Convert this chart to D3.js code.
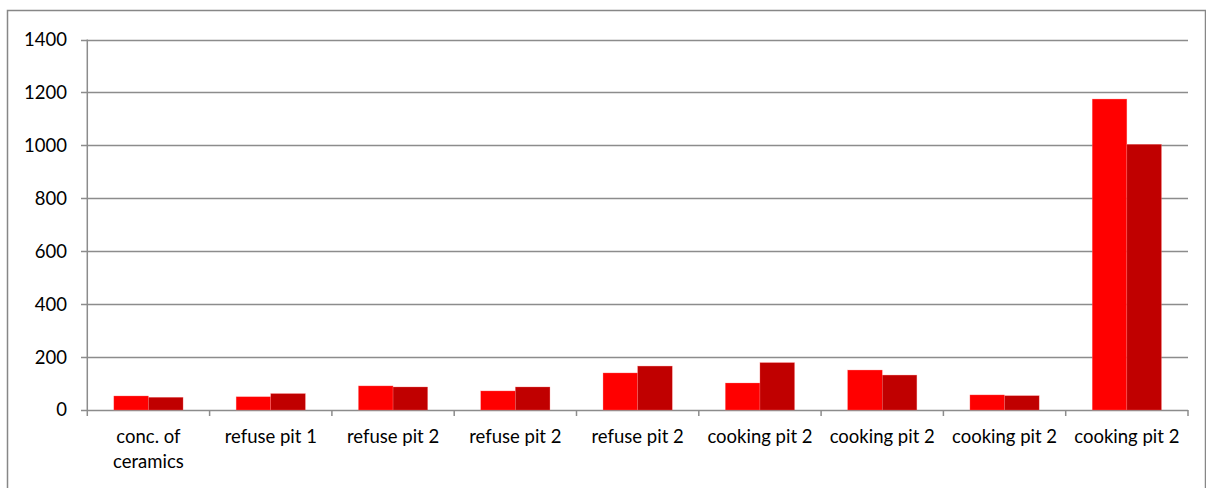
<!DOCTYPE html>
<html><head><meta charset="utf-8">
<script src="https://cdn.jsdelivr.net/npm/d3@7"></script>
<style>body{margin:0;background:#fff}svg{display:block}</style>
</head><body>
<script>
const categories = ["conc. of ceramics","refuse pit 1","refuse pit 2","refuse pit 2","refuse pit 2","cooking pit 2","cooking pit 2","cooking pit 2","cooking pit 2"];
const series1 = [53, 50, 91, 72, 140, 102, 151, 57, 1175];
const series2 = [48, 62, 87, 87, 166, 179, 132, 54, 1004];
const yTicks = [0, 200, 400, 600, 800, 1000, 1200, 1400];
const seriesColors = ["#ff0000", "#c00000"];

const W = 1206, H = 488;
const svg = d3.select("body").append("svg").attr("width", W).attr("height", H);
svg.append("rect").attr("x", 7.5).attr("y", 10.5).attr("width", 1198).attr("height", 490)
  .attr("fill", "none").attr("stroke", "#878787").attr("stroke-width", 1.5);

const L = 87.3, R = 1188, T = 39.5, B = 410;
const y = d3.scaleLinear().domain([0, 1400]).range([B, T]);
const x0 = d3.scaleBand().domain(d3.range(categories.length)).range([L, R]).paddingInner(0.434).paddingOuter(0.217);
const x1 = d3.scaleBand().domain([0, 1]).range([0, x0.bandwidth()]);

const font = "Lato, 'Open Sans', sans-serif";
const fs = 18.5;
// gridlines
svg.append("g").selectAll("line").data(yTicks).join("line")
  .attr("x1", 81).attr("x2", R).attr("y1", d => Math.round(y(d)) + 0.5).attr("y2", d => Math.round(y(d)) + 0.5)
  .attr("stroke", "#8c8c8c").attr("stroke-width", 1.5);
// y axis line
svg.append("line").attr("x1", L).attr("x2", L).attr("y1", T).attr("y2", B).attr("stroke", "#8c8c8c").attr("stroke-width", 1.5);
// y labels
svg.append("g").selectAll("text").data(yTicks).join("text")
  .attr("x", 67).attr("y", d => y(d)).attr("dy", "0.35em").attr("text-anchor", "end")
  .attr("font-family", font).attr("font-size", fs).attr("fill", "#000").text(d => d);
// x ticks
const xTickPos = d3.range(categories.length + 1).map(i => L + i * x0.step());
svg.append("g").selectAll("line").data(xTickPos).join("line")
  .attr("x1", d => d).attr("x2", d => d).attr("y1", B).attr("y2", B + 6)
  .attr("stroke", "#8c8c8c").attr("stroke-width", 1.5);

const data = categories.map((c, i) => [series1[i], series2[i]]);
const g = svg.append("g").selectAll("g").data(data).join("g")
  .attr("transform", (d, i) => `translate(${x0(i)},0)`);
g.selectAll("rect").data(d => d).join("rect")
  .attr("x", (d, j) => x1(j)).attr("width", x1.bandwidth())
  .attr("y", d => y(d)).attr("height", d => B - y(d))
  .attr("fill", (d, j) => seriesColors[j]).attr("stroke", "#ff8080").attr("stroke-width", 0.5).attr("stroke-opacity", 0.6);

// x labels
const xl = svg.append("g").selectAll("text").data(categories).join("text")
  .attr("x", (d, i) => x0(i) + x0.bandwidth() / 2).attr("y", 443)
  .attr("text-anchor", "middle").attr("font-family", font).attr("font-size", fs).attr("fill", "#000");
xl.each(function(d) {
  const lines = d === "conc. of ceramics" ? ["conc. of", "ceramics"] : [d];
  const t = d3.select(this);
  lines.forEach((ln, k) => t.append("tspan").attr("x", t.attr("x")).attr("dy", k ? 25 : 0).text(ln));
});
</script>
</body></html>
